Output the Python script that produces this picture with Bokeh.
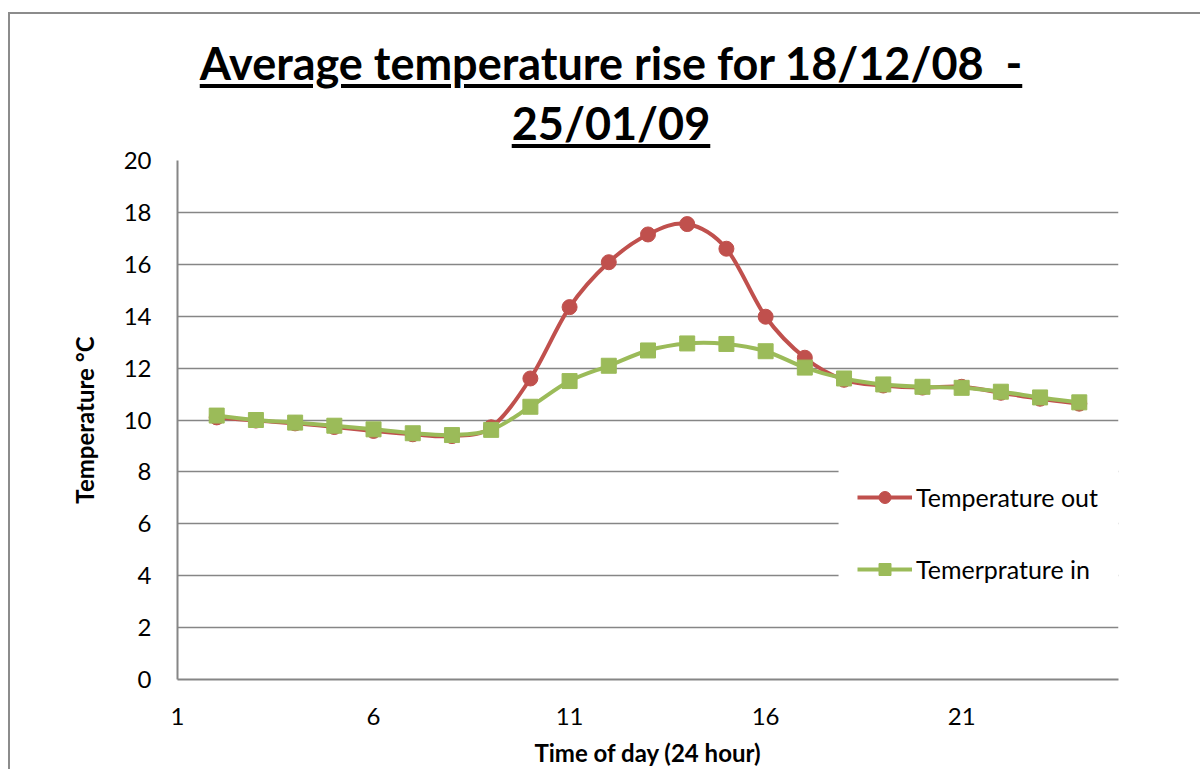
from bokeh.plotting import figure
from bokeh.layouts import column
from bokeh.models import (BoxAnnotation, Legend, LegendItem, FixedTicker,
                          Range1d, ColumnDataSource, Div)
from bokeh.embed import file_html
from bokeh.resources import INLINE

# ---- data -------------------------------------------------------------
hours = list(range(2, 25))
temp_out = [10.1, 9.98, 9.87, 9.73, 9.58, 9.45, 9.38, 9.72, 11.6, 14.35, 16.08,
            17.15, 17.55, 16.6, 13.98, 12.4, 11.55, 11.33, 11.25, 11.28, 11.05,
            10.82, 10.63]
temp_in = [10.17, 10.0, 9.9, 9.78, 9.64, 9.49, 9.42, 9.62, 10.51, 11.5, 12.09,
           12.68, 12.95, 12.93, 12.65, 12.02, 11.6, 11.37, 11.28, 11.24, 11.09,
           10.87, 10.68]
series_names = ["Temperature out", "Temerprature in"]
series_colors = ["#C0504D", "#9BBB59"]
x_ticks = [1, 6, 11, 16, 21]
y_ticks = list(range(0, 21, 2))
title_lines = ["Average temperature rise for 18/12/08&nbsp; -", "25/01/09"]
x_label = "Time of day (24 hour)"
y_label = "Temperature \u00b0C"


def smooth(xs, ys):
    """Bezier control points (Catmull-Rom style) through the data points."""
    n = len(xs)
    d = {k: [] for k in ("x0", "y0", "x1", "y1", "cx0", "cy0", "cx1", "cy1")}
    for i in range(n - 1):
        im = max(i - 1, 0)
        ip = min(i + 2, n - 1)
        d["x0"].append(xs[i]); d["y0"].append(ys[i])
        d["x1"].append(xs[i + 1]); d["y1"].append(ys[i + 1])
        d["cx0"].append(xs[i] + (xs[i + 1] - xs[im]) / 6.0)
        d["cy0"].append(ys[i] + (ys[i + 1] - ys[im]) / 6.0)
        d["cx1"].append(xs[i + 1] - (xs[ip] - xs[i]) / 6.0)
        d["cy1"].append(ys[i + 1] - (ys[ip] - ys[i]) / 6.0)
    return ColumnDataSource(d)


FONT = "Lato"
GRID = "#868686"
BORDER = "2px solid #8c8c8c"

p = figure(width=1190, height=625, output_backend="svg", toolbar_location=None,
           x_range=Range1d(1, 25), y_range=Range1d(0, 20),
           min_border_left=167, min_border_right=82, min_border_top=16,
           min_border_bottom=89)
p.background_fill_color = "white"
p.border_fill_color = None
p.outline_line_color = None

# axes
p.xaxis.ticker = FixedTicker(ticks=x_ticks)
p.yaxis.ticker = FixedTicker(ticks=y_ticks)
for ax in (p.xaxis, p.yaxis):
    ax.major_tick_out = 0
    ax.major_tick_in = 0
    ax.minor_tick_out = 0
    ax.minor_tick_in = 0
    ax.axis_line_color = GRID
    ax.axis_line_width = 2
    ax.major_label_text_font = FONT
    ax.major_label_text_font_size = "24px"
    ax.major_label_text_color = "black"
    ax.axis_label_text_font = FONT
    ax.axis_label_text_font_style = "bold"
    ax.axis_label_text_font_size = "24px"
    ax.axis_label_text_color = "black"
p.xaxis.major_label_standoff = 28
p.xaxis.axis_label_standoff = 10
p.yaxis.major_label_standoff = 26
p.yaxis.axis_label_standoff = 22
p.xaxis.axis_label = x_label
p.yaxis.axis_label = y_label

p.xgrid.grid_line_color = None
p.ygrid.grid_line_color = GRID
p.ygrid.grid_line_width = 1.5

# white panel behind the legend (hides the grid lines there)
p.add_layout(BoxAnnotation(left=17.86, right=25, bottom=2.9, top=8.25,
                           fill_color="white", fill_alpha=1, line_color=None,
                           level="underlay"))

# series
items = []
for ys, name, color, marker in ((temp_out, series_names[0], series_colors[0], "circle"),
                                (temp_in, series_names[1], series_colors[1], "square")):
    src = smooth(hours, ys)
    br = p.bezier(x0="x0", y0="y0", x1="x1", y1="y1", cx0="cx0", cy0="cy0",
                  cx1="cx1", cy1="cy1", source=src, line_color=color, line_width=4)
    sr = p.scatter(hours, ys, marker=marker, size=15, fill_color=color,
                   line_color=color, line_width=1)
    items.append(LegendItem(label=name, renderers=[br, sr]))

legend = Legend(items=items, location=(680, 95), orientation="vertical",
                glyph_width=55, glyph_height=30, label_height=30, spacing=42,
                padding=0, margin=0, label_standoff=4,
                label_text_font=FONT, label_text_font_size="25px",
                label_text_color="black", border_line_color=None,
                background_fill_alpha=0.0)
p.add_layout(legend, "center")

title_html = (
    '<div style="font-family: Lato; font-weight: bold; font-size: 45px; '
    'line-height: 60px; text-align: center; width: 1190px; padding-top: 19px; '
    'position: relative; left: 6px; color: black; '
    'text-decoration: underline; text-decoration-thickness: 4px; '
    'text-underline-offset: 4px;">'
    + title_lines[0] + "<br>" + title_lines[1] + "</div>"
)
title = Div(text=title_html, width=1190, height=130, styles={"margin": "0"})

layout = column(title, p, spacing=0,
                styles={"margin-left": "8px", "margin-top": "12px",
                        "border-left": BORDER, "border-top": BORDER})

open("out.html", "w").write(file_html(layout, INLINE))
